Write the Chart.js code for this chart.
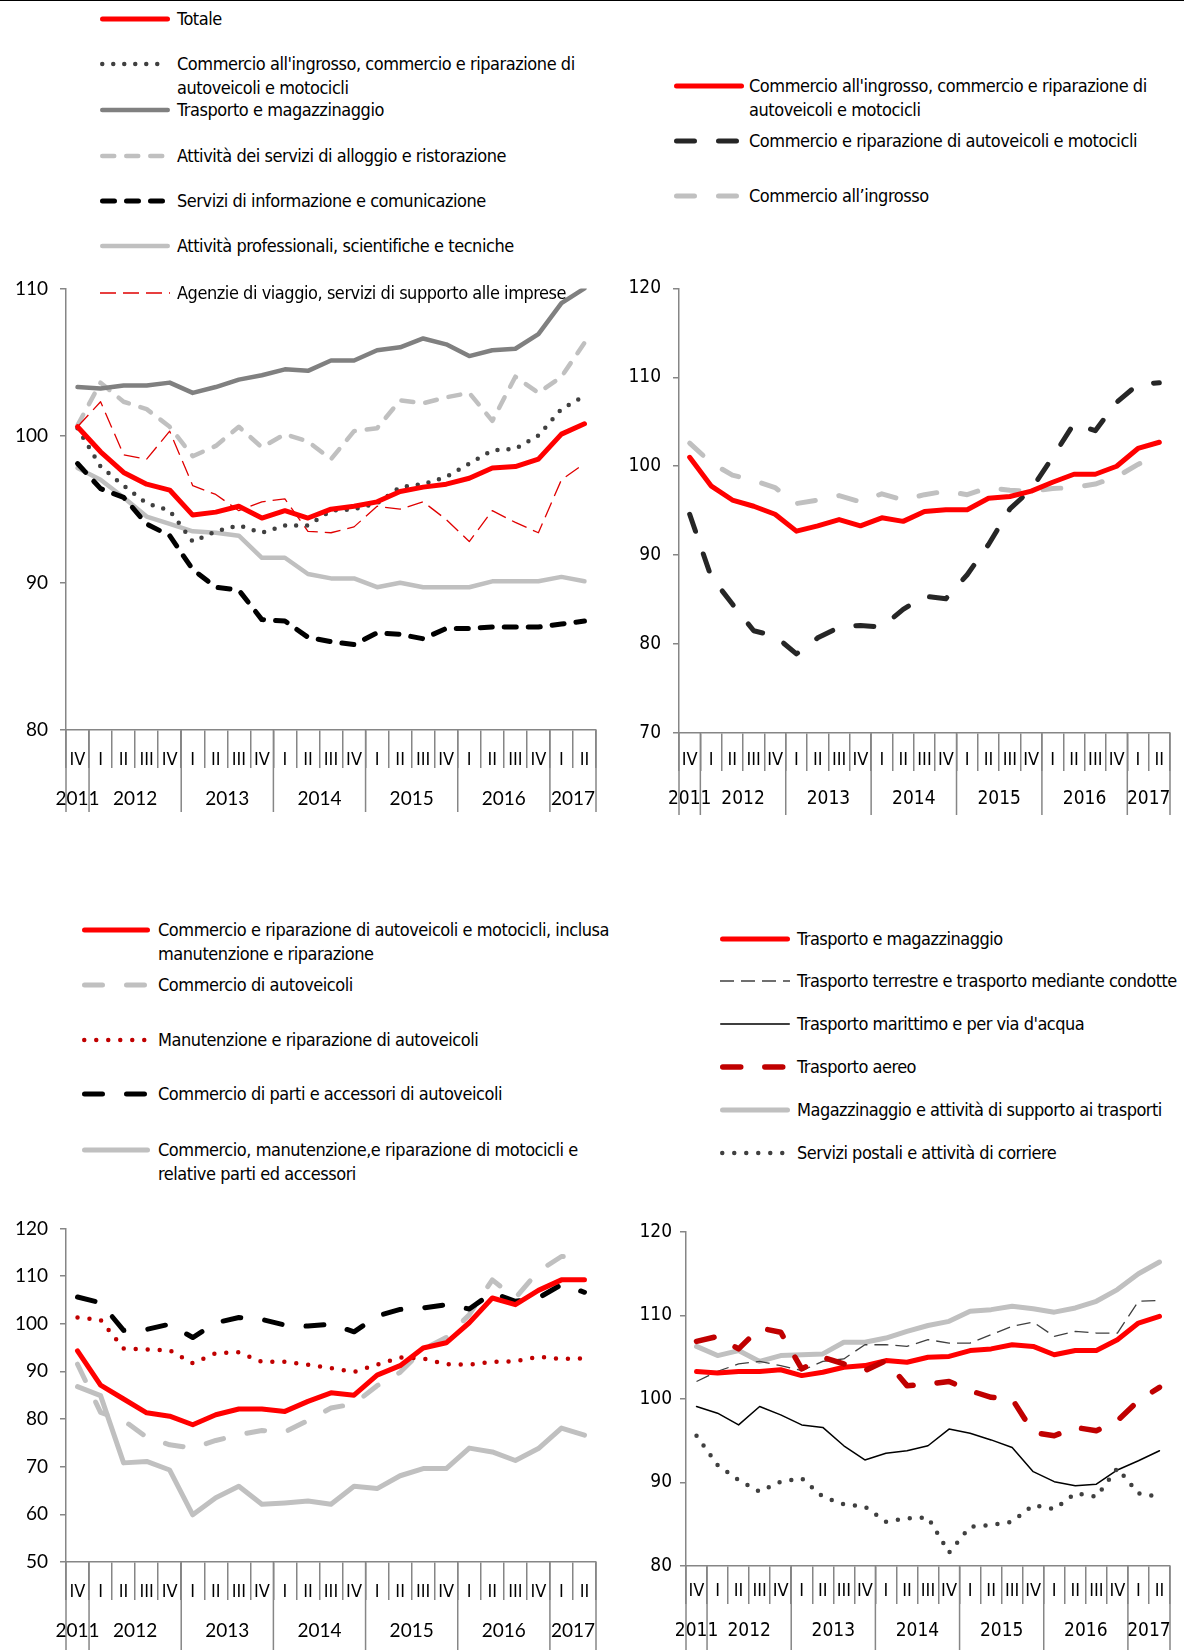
<!DOCTYPE html>
<html>
<head>
<meta charset="utf-8">
<script src="https://cdn.jsdelivr.net/npm/chart.js@4.4.1/dist/chart.umd.min.js"></script>
<style>
  body { margin: 0; width: 1184px; height: 1650px; position: relative; background: #fff; overflow: hidden; }
  .topline { position: absolute; left: 0; top: 0; width: 1184px; height: 1px; background: #000; }
  .panel { position: absolute; }
  .legend-text { position: absolute; font-family: "Liberation Sans Narrow", "Arial Narrow", "DejaVu Sans Condensed", sans-serif;
    font-size: 18px; line-height: 24px; color: #000; white-space: nowrap; letter-spacing: -0.45px; }
  .legend-sample { position: absolute; overflow: visible; }
</style>
</head>
<body>
<div class="topline"></div>
<div id="p1" class="panel" style="left:0;top:265px;width:600px;height:550px"><canvas id="c1"></canvas></div>
<div id="p2" class="panel" style="left:600px;top:265px;width:584px;height:550px"><canvas id="c2"></canvas></div>
<div id="p3" class="panel" style="left:0;top:1205px;width:600px;height:445px"><canvas id="c3"></canvas></div>
<div id="p4" class="panel" style="left:600px;top:1205px;width:584px;height:445px"><canvas id="c4"></canvas></div>
<script>
// quarters from IV 2011 to II 2017
const quarterLabels = ['IV', 'I', 'II', 'III', 'IV', 'I', 'II', 'III', 'IV', 'I', 'II', 'III', 'IV',
  'I', 'II', 'III', 'IV', 'I', 'II', 'III', 'IV', 'I', 'II'];
const yearLabels = ['2011', '2012', '2013', '2014', '2015', '2016', '2017'];
const yearSpans = [1, 4, 4, 4, 4, 4, 2];

// panel 1 - sectors
const p1Totale = [100.6, 98.9, 97.5, 96.7, 96.3, 94.6, 94.8, 95.2, 94.4, 94.9, 94.4, 95.0, 95.2, 95.5, 96.2, 96.5, 96.7, 97.1, 97.8, 97.9, 98.4, 100.1, 100.8];
const p1Commercio = [100.5, 97.9, 96.6, 95.4, 94.9, 92.8, 93.5, 93.9, 93.4, 93.9, 93.9, 94.9, 95.0, 95.4, 96.5, 96.7, 97.2, 98.1, 99.0, 99.1, 100.0, 101.8, 102.7];
const p1Trasporto = [103.3, 103.2, 103.4, 103.4, 103.6, 102.9, 103.3, 103.8, 104.1, 104.5, 104.4, 105.1, 105.1, 105.8, 106.0, 106.6, 106.2, 105.4, 105.8, 105.9, 106.9, 109.0, 110.0];
const p1Alloggio = [100.7, 103.6, 102.3, 101.8, 100.6, 98.6, 99.3, 100.6, 99.2, 100.1, 99.6, 98.4, 100.3, 100.5, 102.4, 102.2, 102.6, 102.9, 101.0, 104.0, 102.9, 104.0, 106.3];
const p1Informazione = [98.1, 96.4, 95.8, 94.0, 93.2, 90.9, 89.7, 89.5, 87.5, 87.4, 86.3, 86.0, 85.8, 86.6, 86.5, 86.2, 86.9, 86.9, 87.0, 87.0, 87.0, 87.2, 87.4];
const p1Professionali = [97.8, 97.0, 95.8, 94.5, 94.0, 93.5, 93.4, 93.2, 91.7, 91.7, 90.6, 90.3, 90.3, 89.7, 90.0, 89.7, 89.7, 89.7, 90.1, 90.1, 90.1, 90.4, 90.1];
const p1Agenzie = [100.6, 102.3, 98.7, 98.4, 100.3, 96.6, 96.0, 94.9, 95.5, 95.7, 93.5, 93.4, 93.8, 95.2, 95.0, 95.5, 94.3, 92.8, 94.9, 94.1, 93.4, 97.0, 98.1];

// panel 2 - commercio
const p2Commercio = [101.0, 97.8, 96.2, 95.5, 94.6, 92.7, 93.3, 94.0, 93.3, 94.2, 93.8, 94.9, 95.1, 95.1, 96.4, 96.6, 97.2, 98.2, 99.1, 99.1, 100.0, 102.0, 102.7];
const p2Autoveicoli = [94.6, 87.6, 84.5, 81.5, 80.9, 78.9, 80.7, 81.9, 82.1, 81.9, 83.9, 85.4, 85.1, 87.8, 91.2, 95.2, 97.4, 101.0, 104.8, 104.0, 107.2, 109.2, 109.4];
const p2Ingrosso = [102.6, 100.4, 99.0, 98.4, 97.6, 95.8, 96.2, 96.7, 96.0, 96.9, 96.2, 96.8, 97.2, 96.8, 97.6, 97.3, 97.2, 97.5, 97.6, 98.0, 98.8, 100.2, 101.4];

// panel 3 - autoveicoli
const p3Totale = [94.3, 87.1, 84.2, 81.3, 80.6, 78.8, 80.9, 82.1, 82.1, 81.6, 83.7, 85.5, 85.0, 89.2, 91.2, 94.9, 96.0, 100.2, 105.4, 104.0, 107.0, 109.2, 109.2];
const p3Autoveicoli = [91.5, 81.4, 79.7, 76.2, 74.6, 73.9, 75.5, 76.7, 77.6, 77.3, 79.7, 82.3, 83.2, 87.0, 89.8, 94.6, 97.1, 101.9, 109.2, 105.4, 111.0, 114.1, 114.3];
const p3Manutenzione = [101.3, 100.8, 94.8, 94.6, 94.4, 91.7, 93.8, 94.0, 92.0, 92.0, 91.4, 90.7, 89.9, 91.4, 92.9, 92.7, 91.5, 91.4, 92.0, 92.1, 93.1, 92.6, 92.7];
const p3Parti = [105.6, 104.4, 98.6, 98.8, 99.9, 97.1, 100.2, 101.3, 100.9, 99.7, 99.5, 99.9, 98.3, 101.6, 103.0, 103.3, 104.0, 103.1, 106.5, 104.7, 105.4, 108.2, 106.6];
const p3Motocicli = [86.8, 84.9, 70.8, 71.1, 69.3, 59.9, 63.5, 65.9, 62.1, 62.4, 62.8, 62.1, 65.9, 65.4, 68.1, 69.6, 69.6, 73.9, 73.1, 71.3, 73.8, 78.1, 76.6];

// panel 4 - trasporti
const p4Totale = [103.3, 103.1, 103.3, 103.3, 103.5, 102.8, 103.2, 103.8, 104.0, 104.6, 104.4, 105.0, 105.1, 105.8, 106.0, 106.5, 106.3, 105.3, 105.8, 105.8, 107.1, 109.1, 109.9];
const p4Terrestre = [102.1, 103.3, 104.2, 104.5, 104.0, 103.4, 104.5, 104.8, 106.5, 106.5, 106.3, 107.1, 106.7, 106.7, 107.7, 108.7, 109.2, 107.5, 108.1, 107.9, 107.9, 111.7, 111.8];
const p4Marittimo = [99.1, 98.3, 96.9, 99.1, 98.1, 96.9, 96.6, 94.4, 92.7, 93.5, 93.8, 94.4, 96.4, 95.9, 95.1, 94.2, 91.3, 90.1, 89.6, 89.8, 91.5, 92.6, 93.8];
const p4Aereo = [106.9, 107.5, 106.0, 108.5, 108.0, 103.6, 105.0, 104.2, 103.4, 104.6, 101.6, 101.8, 102.1, 101.0, 100.2, 100.0, 96.0, 95.6, 96.6, 96.2, 97.4, 99.8, 101.4];
const p4Magazzinaggio = [106.3, 105.2, 105.8, 104.5, 105.2, 105.3, 105.4, 106.8, 106.8, 107.3, 108.1, 108.8, 109.3, 110.5, 110.7, 111.1, 110.8, 110.4, 110.9, 111.7, 113.1, 115.0, 116.4];
const p4Postali = [95.6, 92.1, 90.3, 88.9, 90.1, 90.5, 88.3, 87.4, 87.1, 85.3, 85.7, 85.8, 81.6, 84.7, 84.9, 85.3, 87.3, 86.8, 88.7, 88.3, 91.7, 88.7, 88.3];

const AXIS = '#868686';
const CALIBRI = 'Lato, "Open Sans", sans-serif';
const NARROW = '"Liberation Sans Narrow", "Arial Narrow", "DejaVu Sans Condensed", sans-serif';

// line styles
const solid = (color, w) => ({ color, width: w, dash: [], cap: 'round' });
const dashed = (color, w, dash, cap) => ({ color, width: w, dash, cap: cap || 'round' });
const dotted = (color, w, gap) => ({ color, width: w, dash: [0, gap], cap: 'round' });

const panels = [
  {
    canvas: 'c1', min: 80, max: 110, yWidth: 66, xHeight: 85, pad: { top: 19, right: 4 },
    tickFont: CALIBRI, tickPad: 12, yearFont: CALIBRI, linesDown: 82, qPad: -18, yearOffset: 69,
    legend: { sampleX: 100, sampleW: 70, textX: 177, rows: [19, 64, 110, 156, 201, 246, 293], spacing: -0.45 },
    series: [
      { label: ['Totale'], data: p1Totale, style: solid('#ff0000', 5), z: 7 },
      { label: ["Commercio all'ingrosso, commercio e riparazione di", 'autoveicoli e motocicli'], data: p1Commercio, style: dotted('#404040', 4.5, 11), z: 6 },
      { label: ['Trasporto e magazzinaggio'], data: p1Trasporto, style: solid('#808080', 4.5), z: 2 },
      { label: ['Attività dei servizi di alloggio e ristorazione'], data: p1Alloggio, style: dashed('#c0c0c0', 4.5, [12, 12]), z: 1 },
      { label: ['Servizi di informazione e comunicazione'], data: p1Informazione, style: dashed('#000000', 5, [12, 12]), z: 4 },
      { label: ['Attività professionali, scientifiche e tecniche'], data: p1Professionali, style: solid('#c0c0c0', 4.5), z: 3 },
      { label: ['Agenzie di viaggio, servizi di supporto alle imprese'], data: p1Agenzie, style: dashed('#e00000', 1.3, [16, 7], 'butt'), z: 5 }
    ]
  },
  {
    canvas: 'c2', min: 70, max: 120, yWidth: 79, xHeight: 82, pad: { top: 17, right: 14 },
    tickFont: NARROW, tickPad: 12, yearFont: NARROW, linesDown: 82, qPad: -21, yearOffset: 66,
    legend: { sampleX: 674, sampleW: 70, textX: 749, rows: [86, 141, 196], spacing: -0.45 },
    series: [
      { label: ["Commercio all'ingrosso, commercio e riparazione di", 'autoveicoli e   motocicli'], data: p2Commercio, style: solid('#ff0000', 5), z: 3 },
      { label: ['Commercio e riparazione di autoveicoli e motocicli'], data: p2Autoveicoli, style: dashed('#262626', 5, [18, 24]), z: 2 },
      { label: ['Commercio all’ingrosso'], data: p2Ingrosso, style: dashed('#c0c0c0', 5, [18, 24]), z: 1 }
    ]
  },
  {
    canvas: 'c3', min: 50, max: 120, yWidth: 66, xHeight: 88, pad: { top: 19, right: 4 },
    tickFont: CALIBRI, tickPad: 12, yearFont: CALIBRI, linesDown: 90, qPad: -18, yearOffset: 69,
    legend: { sampleX: 82, sampleW: 68, textX: 158, rows: [930, 985, 1040, 1094, 1150], spacing: -0.45 },
    series: [
      { label: ['Commercio e riparazione di autoveicoli e motocicli, inclusa', 'manutenzione e riparazione'], data: p3Totale, style: solid('#ff0000', 5), z: 5 },
      { label: ['Commercio di autoveicoli'], data: p3Autoveicoli, style: dashed('#c0c0c0', 5, [18, 24]), z: 2 },
      { label: ['Manutenzione e riparazione di autoveicoli'], data: p3Manutenzione, style: dotted('#c00000', 4.5, 12), z: 4 },
      { label: ['Commercio di parti e accessori di autoveicoli'], data: p3Parti, style: dashed('#000000', 5, [18, 24]), z: 3 },
      { label: ['Commercio, manutenzione,e riparazione di motocicli e', 'relative parti ed accessori'], data: p3Motocicli, style: solid('#c0c0c0', 5), z: 1 }
    ]
  },
  {
    canvas: 'c4', min: 80, max: 120, yWidth: 86, xHeight: 84, pad: { top: 27, right: 14 },
    tickFont: NARROW, tickPad: 8, yearFont: NARROW, linesDown: 90, qPad: -23, yearOffset: 65,
    legend: { sampleX: 720, sampleW: 70, textX: 797, rows: [939, 981, 1024, 1067, 1110, 1153], spacing: -0.5 },
    series: [
      { label: ['Trasporto e magazzinaggio'], data: p4Totale, style: solid('#ff0000', 5), z: 5 },
      { label: ['Trasporto terrestre e trasporto mediante condotte'], data: p4Terrestre, style: dashed('#404040', 1.3, [14, 7], 'butt'), z: 3 },
      { label: ["Trasporto marittimo e per via d'acqua"], data: p4Marittimo, style: solid('#000000', 1.5), z: 2 },
      { label: ['Trasporto aereo'], data: p4Aereo, style: dashed('#c00000', 5.5, [18, 24]), z: 6 },
      { label: ['Magazzinaggio e attività di supporto ai trasporti'], data: p4Magazzinaggio, style: solid('#c0c0c0', 5), z: 1 },
      { label: ['Servizi postali e attività di corriere'], data: p4Postali, style: dotted('#404040', 4.5, 12), z: 4 }
    ]
  }
];

// year row under the quarter labels: long separators + centred year labels
const yearPlugin = {
  id: 'yearRow',
  afterDraw(chart, args, opts) {
    const x = chart.scales.x;
    const area = chart.chartArea;
    const ctx = chart.ctx;
    const n = quarterLabels.length;
    const edge = i => i <= 0 ? x.left : i >= n ? x.right : (x.getPixelForValue(i - 1) + x.getPixelForValue(i)) / 2;
    ctx.save();
    ctx.strokeStyle = AXIS;
    ctx.lineWidth = 1.5;
    ctx.fillStyle = '#000';
    ctx.font = '19px ' + opts.font;
    ctx.textAlign = 'center';
    ctx.textBaseline = 'middle';
    let start = 0;
    yearLabels.forEach((yr, k) => {
      const end = start + yearSpans[k];
      const xs = [edge(start)];
      if (k === yearLabels.length - 1) xs.push(edge(end));
      xs.forEach(px => {
        ctx.beginPath();
        ctx.moveTo(px, area.bottom);
        ctx.lineTo(px, area.bottom + opts.down);
        ctx.stroke();
      });
      const cx = (x.getPixelForValue(start) + x.getPixelForValue(end - 1)) / 2;
      ctx.fillText(yr, cx, area.bottom + opts.labelOffset);
      start = end;
    });
    ctx.restore();
  }
};

function sampleSvg(style, w) {
  const ns = 'http://www.w3.org/2000/svg';
  const svg = document.createElementNS(ns, 'svg');
  svg.setAttribute('width', w);
  svg.setAttribute('height', 12);
  const line = document.createElementNS(ns, 'line');
  const inset = style.cap === 'round' ? style.width / 2 : 0;
  line.setAttribute('x1', inset);
  line.setAttribute('x2', w - inset);
  line.setAttribute('y1', 6);
  line.setAttribute('y2', 6);
  line.setAttribute('stroke', style.color);
  line.setAttribute('stroke-width', style.width);
  line.setAttribute('stroke-linecap', style.cap);
  if (style.dash.length) line.setAttribute('stroke-dasharray', style.dash.join(' '));
  svg.appendChild(line);
  return svg;
}

function buildLegend(p) {
  const L = p.legend;
  p.series.forEach((s, i) => {
    const y = L.rows[i];
    const svg = sampleSvg(s.style, L.sampleW);
    svg.classList.add('legend-sample');
    svg.style.left = L.sampleX + 'px';
    svg.style.top = (y - 6) + 'px';
    document.body.appendChild(svg);
    const t = document.createElement('div');
    t.className = 'legend-text';
    t.style.left = L.textX + 'px';
    t.style.top = (y - 12) + 'px';
    t.style.letterSpacing = L.spacing + 'px';
    s.label.forEach((ln, j) => {
      if (j) t.appendChild(document.createElement('br'));
      t.appendChild(document.createTextNode(ln));
    });
    document.body.appendChild(t);
  });
}

panels.forEach(p => {
  const datasets = p.series.map(s => ({
    label: s.label.join(' '),
    data: s.data,
    borderColor: s.style.color,
    backgroundColor: s.style.color,
    borderWidth: s.style.width,
    borderDash: s.style.dash,
    borderCapStyle: s.style.cap,
    borderJoinStyle: 'round',
    pointRadius: 0,
    tension: 0,
    fill: false,
    order: 10 - s.z
  }));
  new Chart(document.getElementById(p.canvas), {
    type: 'line',
    data: { labels: quarterLabels, datasets },
    options: {
      responsive: true,
      maintainAspectRatio: false,
      animation: false,
      devicePixelRatio: 1,
      layout: { autoPadding: false, padding: { top: p.pad.top, right: p.pad.right, left: 0, bottom: 0 } },
      plugins: {
        legend: { display: false },
        tooltip: { enabled: false },
        yearRow: { font: p.yearFont, down: p.linesDown, labelOffset: p.yearOffset }
      },
      scales: {
        x: {
          offset: true,
          grid: { offset: true, drawOnChartArea: false, tickLength: 38, color: AXIS, lineWidth: 1.5 },
          border: { color: AXIS, width: 1.5 },
          ticks: { color: '#000', font: { family: NARROW, size: 18 }, padding: p.qPad, maxRotation: 0, autoSkip: false },
          afterFit(s) { s.height = p.xHeight; }
        },
        y: {
          min: p.min,
          max: p.max,
          grid: { drawOnChartArea: false, tickLength: 6, color: AXIS, lineWidth: 1.5 },
          border: { color: AXIS, width: 1.5 },
          ticks: { stepSize: 10, color: '#000', font: { family: p.tickFont, size: 19 }, padding: p.tickPad },
          afterFit(s) { s.width = p.yWidth; }
        }
      }
    },
    plugins: [yearPlugin]
  });
  buildLegend(p);
});
</script>
</body>
</html>
